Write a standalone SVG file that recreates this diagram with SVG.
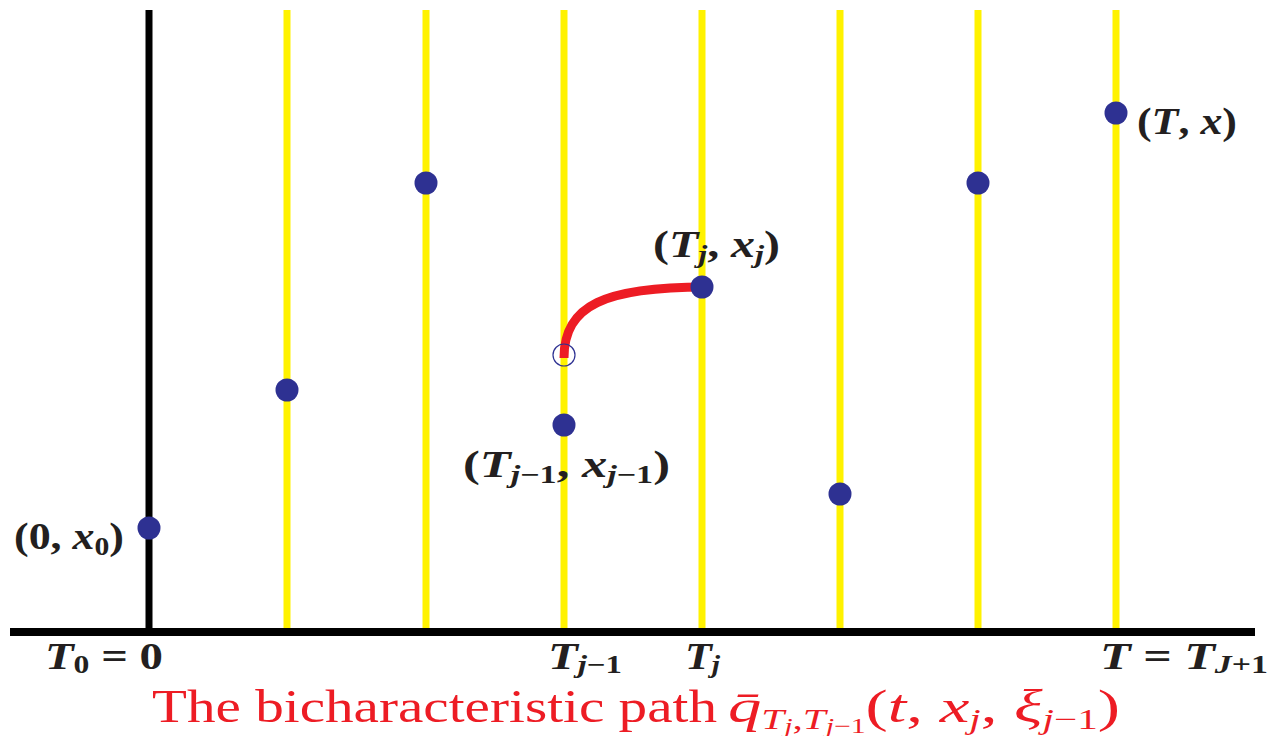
<svg xmlns="http://www.w3.org/2000/svg" width="1272" height="736" viewBox="0 0 1272 736">
<style>
.yl{stroke:#fff200;stroke-width:7;fill:none}
.bl{stroke:#000;stroke-width:7;fill:none}
.dot{fill:#2e3192}
.lb{font-family:"Liberation Serif",serif;font-weight:bold;font-size:37px;fill:#231f20}
.it{font-style:italic}
.sb{font-size:25px}
.rd{font-family:"Liberation Serif",serif;font-size:47px;fill:#ed1c24}
</style>
<rect width="1272" height="736" fill="#fff"/>
<g id="axes">
<line class="bl" x1="149" y1="10" x2="149" y2="632"/>
<line class="yl" x1="287" y1="10" x2="287" y2="632"/>
<line class="yl" x1="426" y1="10" x2="426" y2="632"/>
<line class="yl" x1="564" y1="10" x2="564" y2="632"/>
<line class="yl" x1="702" y1="10" x2="702" y2="632"/>
<line class="yl" x1="840" y1="10" x2="840" y2="632"/>
<line class="yl" x1="978" y1="10" x2="978" y2="632"/>
<line class="yl" x1="1116" y1="10" x2="1116" y2="632"/>
<line x1="10" y1="632" x2="1255" y2="632" stroke="#000" stroke-width="8"/>
</g>
<g id="connectors">
<path d="M564,358 C564,305 605,287 706,287" stroke="#ed1c24" stroke-width="9" fill="none"/>
</g>
<g id="n-x0"><circle class="dot" cx="149" cy="528" r="11.5"/>
<text class="lb" x="14" y="549" textLength="110" lengthAdjust="spacingAndGlyphs">(0, <tspan class="it">x</tspan><tspan class="sb" dy="6">0</tspan><tspan dy="-6">)</tspan></text></g>
<g id="n-p1"><circle class="dot" cx="287" cy="390" r="11.5"/></g>
<g id="n-p2"><circle class="dot" cx="426" cy="183" r="11.5"/></g>
<g id="n-xj1"><circle class="dot" cx="564" cy="425" r="11.5"/>
<text class="lb" x="463" y="477" textLength="207" lengthAdjust="spacingAndGlyphs">(<tspan class="it">T</tspan><tspan class="sb it" dy="6">j</tspan><tspan class="sb">−1</tspan><tspan dy="-6">, </tspan><tspan class="it">x</tspan><tspan class="sb it" dy="6">j</tspan><tspan class="sb">−1</tspan><tspan dy="-6">)</tspan></text></g>
<g id="n-open"><circle cx="564" cy="355" r="11" fill="none" stroke="#2e3192" stroke-width="1.2"/></g>
<g id="n-xj"><circle class="dot" cx="702" cy="287" r="11.5"/>
<text class="lb" x="653" y="257" textLength="127" lengthAdjust="spacingAndGlyphs">(<tspan class="it">T</tspan><tspan class="sb it" dy="6">j</tspan><tspan dy="-6">, </tspan><tspan class="it">x</tspan><tspan class="sb it" dy="6">j</tspan><tspan dy="-6">)</tspan></text></g>
<g id="n-p5"><circle class="dot" cx="840" cy="494" r="11.5"/></g>
<g id="n-p6"><circle class="dot" cx="978" cy="183" r="11.5"/></g>
<g id="n-T"><circle class="dot" cx="1116" cy="113" r="11.5"/>
<text class="lb" x="1137" y="134" textLength="100" lengthAdjust="spacingAndGlyphs">(<tspan class="it">T</tspan>, <tspan class="it">x</tspan>)</text></g>
<g id="ticks">
<text class="lb" x="45" y="669" textLength="118" lengthAdjust="spacingAndGlyphs"><tspan class="it">T</tspan><tspan class="sb" dy="4">0</tspan><tspan dy="-4"> = 0</tspan></text>
<text class="lb" x="548" y="669" textLength="74" lengthAdjust="spacingAndGlyphs"><tspan class="it">T</tspan><tspan class="sb it" dy="4">j</tspan><tspan class="sb">−1</tspan></text>
<text class="lb" x="685" y="669" textLength="35" lengthAdjust="spacingAndGlyphs"><tspan class="it">T</tspan><tspan class="sb it" dy="4">j</tspan></text>
<text class="lb" x="1100" y="669" textLength="168" lengthAdjust="spacingAndGlyphs"><tspan class="it">T</tspan> = <tspan class="it">T</tspan><tspan class="sb it" dy="4">J</tspan><tspan class="sb">+1</tspan></text>
</g>
<g id="caption">
<text class="rd" x="152" y="722" textLength="565" lengthAdjust="spacingAndGlyphs">The bicharacteristic path</text>
<text class="rd" x="728" y="722" textLength="392" lengthAdjust="spacingAndGlyphs"><tspan font-style="italic">q̄</tspan><tspan font-style="italic" font-size="29" dy="7">T</tspan><tspan font-style="italic" font-size="21" dy="4">j</tspan><tspan font-size="29" dy="-4">,</tspan><tspan font-style="italic" font-size="29">T</tspan><tspan font-style="italic" font-size="21" dy="4">j</tspan><tspan font-size="21">−1</tspan><tspan dy="-11">(</tspan><tspan font-style="italic">t</tspan>, <tspan font-style="italic">x</tspan><tspan font-style="italic" font-size="29" dy="7">j</tspan><tspan dy="-7">, </tspan><tspan font-style="italic">ξ</tspan><tspan font-style="italic" font-size="29" dy="7">j</tspan><tspan font-size="29">−1</tspan><tspan dy="-7">)</tspan></text>
</g>
</svg>
